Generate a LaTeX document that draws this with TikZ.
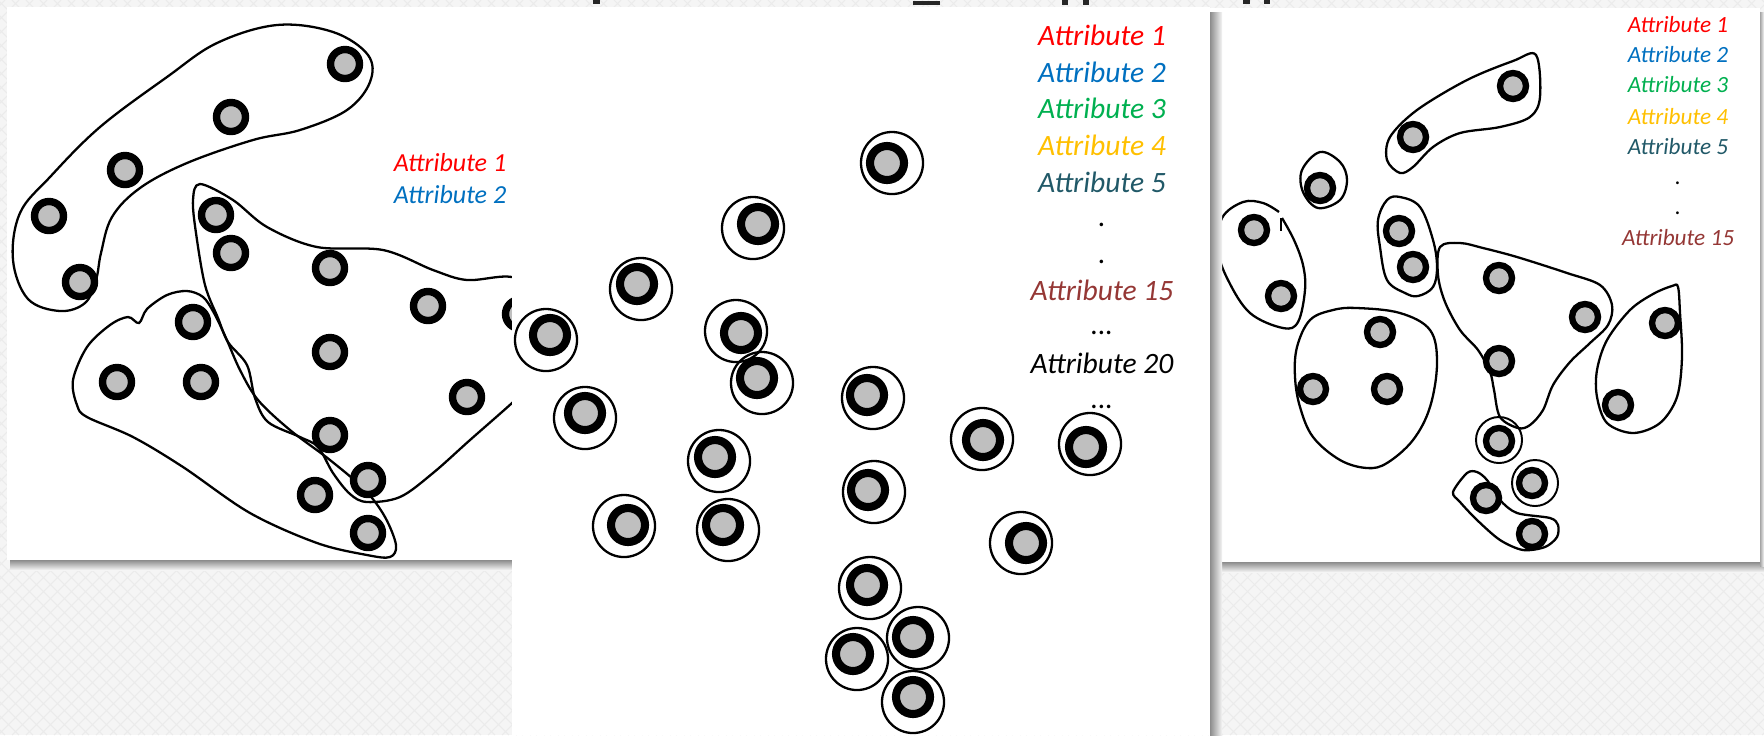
\documentclass[tikz,border=0pt]{standalone}
\usepackage{fontspec}
\setmainfont{Carlito}
\definecolor{bgc}{HTML}{F5F5F5}
\definecolor{bgl}{HTML}{EBEBEB}
\definecolor{nodegrey}{HTML}{BFBFBF}
\definecolor{ared}{HTML}{FF0000}
\definecolor{ablue}{HTML}{0070C0}
\definecolor{agreen}{HTML}{00B050}
\definecolor{ayellow}{HTML}{FFC000}
\definecolor{ateal}{HTML}{215968}
\definecolor{abrown}{HTML}{953735}
\begin{document}
\begin{tikzpicture}[x=0.01cm,y=-0.01cm,
  lnode/.style={circle,draw=black,line width=2.1pt,fill=nodegrey,minimum size=0.29cm,inner sep=0pt},
  mnode/.style={circle,draw=black,line width=2.3pt,fill=nodegrey,minimum size=0.34cm,inner sep=0pt},
  mouter/.style={circle,draw=black,line width=0.65pt,minimum size=0.62cm,inner sep=0pt},
  rnode/.style={circle,draw=black,line width=1.8pt,fill=nodegrey,minimum size=0.26cm,inner sep=0pt},
  router/.style={circle,draw=black,line width=0.55pt,minimum size=0.46cm,inner sep=0pt},
  blob/.style={draw=black,line width=0.65pt},
  ltxt/.style={font=\fontsize{7.4pt}{8pt}\selectfont\itshape,inner sep=0pt},
  mtxt/.style={font=\fontsize{8.4pt}{9pt}\selectfont\itshape,inner sep=0pt},
  rtxt/.style={font=\fontsize{6.6pt}{7pt}\selectfont\itshape,inner sep=0pt},
  panel/.style={fill=white,draw=none},
  frag/.style={fill=black!85,draw=none}]
\useasboundingbox (0,0) rectangle (1764,735);
% background
\begin{scope}
\clip (0,0) rectangle (1764,735);
\fill[bgc] (0,0) rectangle (1764,735);
\foreach \i in {-800,-786,...,1800} {
  \draw[bgl,line width=0.3pt] (\i,0) -- (\i+735,735);
  \draw[bgl,line width=0.3pt] (\i,735) -- (\i+735,0);
}
\end{scope}
% cut-off fragments at the top edge
\fill[frag] (593,0) rectangle (600,4);
\fill[frag] (913,1) rectangle (940,5);
\fill[frag] (1062,0) rectangle (1068,5);
\fill[frag] (1083,0) rectangle (1089,5);
\fill[frag] (1243,0) rectangle (1250,4);
\fill[frag] (1264,0) rectangle (1270,4);
% ---------- right panel ----------
\shade[top color=black!45,bottom color=bgc] (1214,562) rectangle (1764,572);
\shade[left color=black!35,right color=bgc] (1760,12) rectangle (1764,566);
\fill[panel] (1210,8) rectangle (1760,562);
% ---------- left panel ----------
\shade[top color=black!45,bottom color=bgc] (10,560) rectangle (512,570);
\fill[panel] (7,7) rectangle (512,560);
% left outlines
\draw[blob] plot[smooth cycle,tension=0.6] coordinates {(277,25) (333,32) (368,55) (370,82) (347,110) (300,130) (253,140) (187,163) (140,188) (112,217) (101,253) (96,280) (85,303) (60,311) (28,299) (13,260) (20,213) (50,177) (100,127) (167,77) (217,43)};
\draw[blob] plot[smooth cycle,tension=0.55] coordinates {(200,184) (233,200) (267,227) (317,247) (383,250) (433,270) (467,280) (512,277) (545,295) (548,345) (530,385) (512,403) (470,440) (433,473) (400,497) (367,502) (350,494) (333,473) (318,447) (300,437) (268,422) (255,398) (247,365) (228,342) (218,318) (205,285) (196,233) (193,200)};
\draw[blob] plot[smooth cycle,tension=0.55] coordinates {(139,323) (147,309) (167,295) (187,291) (203,297) (214,313) (226,338) (240,370) (258,400) (290,430) (330,460) (365,490) (385,517) (396,545) (390,557) (367,555) (317,543) (250,513) (183,467) (133,437) (87,417) (77,405) (73,380) (87,347) (110,325) (128,317)};
% left nodes
\node[lnode] (L1) at (345,64) {};
\node[lnode] (L2) at (231,117) {};
\node[lnode] (L3) at (125,170) {};
\node[lnode] (L4) at (49,216) {};
\node[lnode] (L5) at (80,282) {};
\node[lnode] (L6) at (216,215) {};
\node[lnode] (L7) at (231,253) {};
\node[lnode] (L8) at (330,268) {};
\node[lnode] (L9) at (428,306) {};
\node[lnode] (L10) at (520,314) {};
\node[lnode] (L11) at (193,322) {};
\node[lnode] (L12) at (117,382) {};
\node[lnode] (L13) at (201,382) {};
\node[lnode] (L14) at (330,352) {};
\node[lnode] (L15) at (467,397) {};
\node[lnode] (L16) at (330,435) {};
\node[lnode] (L17) at (368,480) {};
\node[lnode] (L18) at (315,495) {};
\node[lnode] (L19) at (368,533) {};
\node[ltxt,text=ared] (lt1) at (450,163) {Attribute 1};
\node[ltxt,text=ablue] (lt2) at (450,195) {Attribute 2};
% right outlines
\draw[blob] plot[smooth cycle,tension=0.55] coordinates {(1536,55) (1540,97) (1530,117) (1500,127) (1460,133) (1433,147) (1413,167) (1400,173) (1387,160) (1390,137) (1417,110) (1467,80) (1513,61)};
\draw[blob] plot[smooth cycle,tension=0.6] coordinates {(1320,152) (1340,162) (1347,180) (1340,200) (1318,208) (1303,192) (1302,170)};
\draw[blob] plot[smooth,tension=0.6] coordinates {(1279,212) (1263,203) (1243,202) (1222,218) (1218,250) (1228,280) (1250,313) (1283,328) (1298,322) (1305,290) (1303,265) (1294,240) (1282,218)};
\draw[blob] (1281,218) -- (1281,231);
\draw[blob] plot[smooth cycle,tension=0.6] coordinates {(1400,197) (1420,207) (1433,240) (1437,267) (1433,287) (1418,296) (1405,293) (1387,280) (1380,247) (1378,220) (1387,200)};
\draw[blob] plot[smooth cycle,tension=0.55] coordinates {(1440,247) (1460,243) (1483,248) (1517,257) (1567,273) (1600,285) (1612,305) (1608,325) (1590,343) (1570,362) (1553,385) (1543,410) (1530,425) (1518,428) (1500,417) (1494,390) (1490,372) (1478,350) (1460,330) (1445,302) (1438,275)};
\draw[blob] plot[smooth cycle,tension=0.55] coordinates {(1678,287) (1680,313) (1682,357) (1677,397) (1660,423) (1633,433) (1607,423) (1597,397) (1597,370) (1607,340) (1630,310) (1653,294) (1672,286)};
\draw[blob] plot[smooth cycle,tension=0.6] coordinates {(1357,308) (1400,313) (1430,330) (1437,363) (1430,407) (1413,440) (1387,463) (1367,468) (1340,460) (1313,437) (1300,407) (1295,377) (1297,347) (1310,320) (1333,310)};
\draw[blob] plot[smooth cycle,tension=0.5] coordinates {(1453,492) (1467,473) (1477,472) (1487,480) (1500,500) (1517,513) (1550,518) (1558,525) (1557,537) (1545,547) (1523,550) (1500,540) (1477,520) (1460,502)};
% right nodes
\node[router] (R16o) at (1499,440) {};
\node[router] (R17o) at (1535,483) {};
\node[rnode] (R1) at (1513,86) {};
\node[rnode] (R2) at (1413,137) {};
\node[rnode] (R3) at (1320,188) {};
\node[rnode] (R4) at (1254,230) {};
\node[rnode] (R5) at (1281,296) {};
\node[rnode] (R6) at (1399,231) {};
\node[rnode] (R7) at (1413,267) {};
\node[rnode] (R8) at (1499,278) {};
\node[rnode] (R9) at (1585,317) {};
\node[rnode] (R10) at (1665,323) {};
\node[rnode] (R11) at (1380,332) {};
\node[rnode] (R12) at (1313,389) {};
\node[rnode] (R13) at (1387,389) {};
\node[rnode] (R14) at (1499,361) {};
\node[rnode] (R15) at (1618,405) {};
\node[rnode] (R16) at (1499,441) {};
\node[rnode] (R17) at (1532,483) {};
\node[rnode] (R18) at (1486,498) {};
\node[rnode] (R19) at (1532,534) {};
\node[rtxt,text=ared] (rt1) at (1678,25) {Attribute 1};
\node[rtxt,text=ablue] (rt2) at (1678,55) {Attribute 2};
\node[rtxt,text=agreen] (rt3) at (1678,85) {Attribute 3};
\node[rtxt,text=ayellow] (rt4) at (1678,117) {Attribute 4};
\node[rtxt,text=ateal] (rt5) at (1678,147) {Attribute 5};
\node[rtxt] (rd1) at (1678,183) {.};
\node[rtxt] (rd2) at (1678,213) {.};
\node[rtxt,text=abrown] (rt15) at (1678,238) {Attribute 15};
% ---------- middle panel ----------
\shade[left color=black!45,right color=bgc] (1210,12) rectangle (1222,735);
\fill[panel] (512,7) rectangle (1210,735);
\node[mouter] (M1o) at (892,163) {};
\node[mouter] (M2o) at (753,228) {};
\node[mouter] (M3o) at (641,289) {};
\node[mouter] (M4o) at (546,340) {};
\node[mouter] (M5o) at (736,331) {};
\node[mouter] (M6o) at (762,383) {};
\node[mouter] (M7o) at (873,398) {};
\node[mouter] (M8o) at (585,418) {};
\node[mouter] (M9o) at (719,461) {};
\node[mouter] (M10o) at (982,439) {};
\node[mouter] (M11o) at (1090,444) {};
\node[mouter] (M12o) at (874,492) {};
\node[mouter] (M13o) at (624,526) {};
\node[mouter] (M14o) at (728,530) {};
\node[mouter] (M15o) at (1021,543) {};
\node[mouter] (M16o) at (870,588) {};
\node[mouter] (M17o) at (918,638) {};
\node[mouter] (M18o) at (857,659) {};
\node[mouter] (M19o) at (913,702) {};
\node[mnode] (M1) at (887,163) {};
\node[mnode] (M2) at (758,224) {};
\node[mnode] (M3) at (637,284) {};
\node[mnode] (M4) at (550,335) {};
\node[mnode] (M5) at (741,333) {};
\node[mnode] (M6) at (757,378) {};
\node[mnode] (M7) at (867,395) {};
\node[mnode] (M8) at (585,413) {};
\node[mnode] (M9) at (715,457) {};
\node[mnode] (M10) at (983,440) {};
\node[mnode] (M11) at (1086,447) {};
\node[mnode] (M12) at (868,490) {};
\node[mnode] (M13) at (628,525) {};
\node[mnode] (M14) at (723,525) {};
\node[mnode] (M15) at (1026,543) {};
\node[mnode] (M16) at (867,585) {};
\node[mnode] (M17) at (913,637) {};
\node[mnode] (M18) at (853,654) {};
\node[mnode] (M19) at (913,697) {};
\node[mtxt,text=ared] (mt1) at (1102,35) {Attribute 1};
\node[mtxt,text=ablue] (mt2) at (1102,72) {Attribute 2};
\node[mtxt,text=agreen] (mt3) at (1102,108) {Attribute 3};
\node[mtxt,text=ayellow] (mt4) at (1102,145) {Attribute 4};
\node[mtxt,text=ateal] (mt5) at (1102,182) {Attribute 5};
\node[mtxt] (md1) at (1102,225) {.};
\node[mtxt] (md2) at (1102,262) {.};
\node[mtxt,text=abrown] (mt15) at (1102,290) {Attribute 15};
\node[mtxt] (md3) at (1102,333) {...};
\node[mtxt] (mt20) at (1102,363) {Attribute 20};
\node[mtxt] (md4) at (1102,407) {...};
\end{tikzpicture}
\end{document}
